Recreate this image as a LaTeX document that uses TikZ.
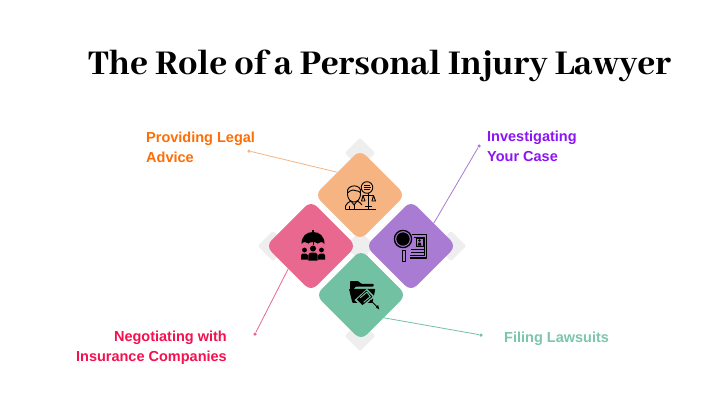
\documentclass[tikz,border=0pt]{standalone}
\usepackage{xcolor}
\usepackage{fontspec}
\setmainfont{Liberation Sans}
\newfontfamily\titlefont{Abhaya Libre ExtraBold}
\usepackage{tikz}
\usetikzlibrary{calc}
\definecolor{peach}{HTML}{F6B483}
\definecolor{plum}{HTML}{A97BD2}
\definecolor{rosy}{HTML}{E8688F}
\definecolor{jade}{HTML}{73C1A3}
\definecolor{paleg}{HTML}{EEEEEE}
\definecolor{txtorange}{HTML}{FF6D05}
\definecolor{txtpurple}{HTML}{8C14F5}
\definecolor{txtred}{HTML}{F5104F}
\definecolor{txtgreen}{HTML}{7CC6AA}
\begin{document}
\begin{tikzpicture}[x=1pt,y=-1pt,font=\fontsize{14.5}{20}\selectfont\bfseries]
\tikzset{tile/.style={rotate=45,minimum size=64pt,rounded corners=8pt,inner sep=0pt},
backtile/.style={rotate=45,minimum size=21.5pt,rounded corners=1.5pt,fill=paleg,inner sep=0pt},
tip/.style={circle,inner sep=0pt,minimum size=3.5pt},
lead/.style={line width=.8pt},
label/.style={align=left,anchor=west,inner sep=0pt},
ink/.style={line width=.9pt,draw=black,line join=round}}
\useasboundingbox (0,0) rectangle (720,405);
\fill[white] (0,0) rectangle (720,405);
\node[anchor=west,inner sep=0pt,font=\titlefont\fontsize{38.3}{42}\selectfont] (title) at (88,66) {The Role of a Personal Injury Lawyer};
% grey tiles behind
\node[backtile] (backtop) at (360,153) {};
\node[backtile] (backleft) at (273,246) {};
\node[backtile] (backright) at (451,246) {};
\node[backtile] (backbottom) at (360,336) {};
\node[backtile] (backmid) at (360,246) {};
% four tiles
\node[tile,fill=peach] (advice) at (360,195) {};
\node[tile,fill=plum] (case) at (411,246) {};
\node[tile,fill=rosy] (talks) at (311,246) {};
\node[tile,fill=jade] (suits) at (361,295) {};
% labels and leads
\node[label,text=txtorange] (advicetxt) at (146,147) {Providing Legal\\Advice};
\node[label,text=txtpurple] (casetxt) at (487,146) {Investigating\\Your Case};
\node[align=right,anchor=east,inner sep=0pt,text=txtred] (talkstxt) at (227,348) {Negotiating with\\Insurance Companies};
\node[label,text=txtgreen] (suitstxt) at (504,339) {Filing Lawsuits};
\node[tip,fill=peach] (advicetip) at (249,151) {};
\node[tip,fill=plum] (casetip) at (479,146) {};
\node[tip,fill=rosy] (talkstip) at (255,334) {};
\node[tip,fill=jade] (suitstip) at (481,335) {};
\draw[lead,peach] (advicetip) -- (advice.north);
\draw[lead,plum] (casetip) -- (case.east);
\draw[lead,rosy] (talkstip) -- (talks.west);
\draw[lead,jade] (suitstip) -- (suits.south);
% A: lawyer and scales
\draw[ink] (347.5,193) .. controls (347.5,200) and (351,202) .. (354,202) .. controls (357,202) and (360.5,200) .. (360.5,193);
\draw[ink] (347.5,193) .. controls (345.5,184) and (362.5,183) .. (360.5,193) .. controls (358,189.5) and (356,192) .. (353,190) .. controls (351,191) and (349,190.5) .. (347.5,193);
\draw[ink] (345.5,209.5) -- (345.5,206) .. controls (346,203) and (349,202.5) .. (351,201) -- (354,205) -- (357,201) .. controls (359,202) and (361,203) .. (362,205);
\draw[ink] (345.5,209.5) -- (375.5,209.5);
\draw[ink] (354,205) -- (354,209.5);
\draw[ink] (349.5,206) -- (349.5,209.5);
\draw[ink] (367,187.5) circle (5.8);
\draw[ink,line width=.8pt] (364,185.5) -- (370,185.5) (363.5,187.5) -- (370.5,187.5) (364,189.5) -- (370,189.5);
\draw[ink] (368,193) -- (368,209) (362.5,195.5) -- (374,195.5);
\draw[ink] (363,195.5) -- (361.5,201) -- (365,201) -- cycle (373.5,195.5) -- (372,201) -- (375.5,201) -- cycle;
\draw[ink] (364.5,206.5) -- (371.5,206.5);
% B: umbrella over people
\begin{scope}[shift={(1.5,0)}]
\fill (300,244) .. controls (300,236) and (305,232) .. (311.5,232) .. controls (318,232) and (323,236) .. (323,244) .. controls (321,241.5) and (318,241.5) .. (316,243.5) .. controls (314.5,241.5) and (308.5,241.5) .. (307,243.5) .. controls (305,241.5) and (302,241.5) .. (300,244) -- cycle;
\fill (310.9,229.5) rectangle (312.1,232.5);
\draw[ink,line width=.7pt] (311.5,241) -- (311.5,245);
\foreach \x/\y/\r in {303/250/2.4,320/250/2.4,311.5/248.5/3}{
\fill (\x,\y) circle (\r);
}
\fill (299.5,259.5) -- (299.5,255.5) .. controls (299.5,253.5) and (301,253.5) .. (303,253.5) .. controls (305,253.5) and (306,254) .. (306.5,255.5) -- (306.5,259.5) -- cycle;
\fill (316.5,259.5) -- (316.5,255.5) .. controls (317,254) and (318.5,253.5) .. (320,253.5) .. controls (322,253.5) and (323.5,253.5) .. (323.5,255.5) -- (323.5,259.5) -- cycle;
\fill (306.8,260.5) -- (306.8,255) .. controls (307,252.5) and (309.5,252.5) .. (311.5,252.5) .. controls (313.5,252.5) and (316,252.5) .. (316.2,255) -- (316.2,260.5) -- cycle;
\end{scope}
% C: magnifier and file
\draw[ink,line width=1.3pt] (403,239) circle (8.6);
\fill (403,239) circle (6.7);
\draw[ink,line width=1pt] (402,250) rectangle (405.5,261.5);
\draw[ink,line width=1.5pt] (411.5,234.5) -- (426.5,234.5) -- (426.5,258) -- (409.5,258);
\draw[ink] (414,237) -- (424,237) -- (424,255.5) -- (410,255.5);
\draw[ink] (416,238) rectangle (423,246);
\fill (419.5,240.5) circle (1.3);
\fill (417.5,245.5) -- (418.5,242.5) -- (420.5,242.5) -- (421.5,245.5) -- cycle;
\draw[ink,line width=1pt] (411,249) -- (424,249) (411,252) -- (424,252);
% D: folder and pen hand
\begin{scope}[shift={(349,281)},scale=1.12,shift={(-350,-281)}]
\fill[rounded corners=.8pt] (351,292) -- (351,281) -- (358,281) -- (361,283.5) -- (372,283.5) -- (372,286) -- (356,286) -- (351,292) -- cycle;
\fill[rounded corners=.8pt] (350,288) -- (373.5,288) -- (371,300.5) -- (353,300.5) -- cycle;
\fill[jade] (355,298) -- (366,288) -- (373,295) -- (362,304.5) -- cycle;
\fill (357,297.5) -- (365.5,289.5) -- (371,295) -- (362,302.5) -- cycle;
\draw[jade,line width=.9pt] (360,296) -- (366,291) -- (369,295) -- (363,300);
\draw[jade,line width=1pt] (371,295) -- (375.5,302);
\draw[line width=.9pt] (369,298) -- (376,305);
\fill (377,306.5) -- (374,304.5) -- (376,302.5) -- cycle;
\end{scope}
\end{tikzpicture}
\end{document}
